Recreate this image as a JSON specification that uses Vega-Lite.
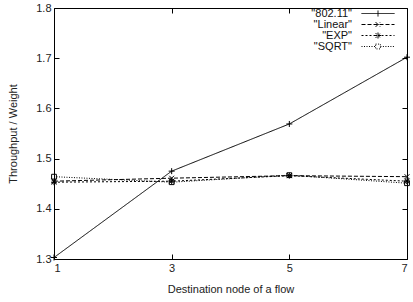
{
  "$schema": "https://vega.github.io/schema/vega-lite/v6.json",
  "width": 353,
  "height": 251,
  "autosize": {"type": "none"},
  "padding": {"left": 54, "top": 8, "right": 6, "bottom": 43},
  "background": "white",
  "config": {
    "font": "Liberation Sans",
    "view": {"stroke": "black", "strokeWidth": 1},
    "axis": {
      "grid": false,
      "domain": false,
      "tickColor": "black",
      "tickSize": -5,
      "tickWidth": 1,
      "labelFont": "Liberation Sans",
      "labelFontSize": 11,
      "labelColor": "#222",
      "titleFont": "Liberation Sans",
      "titleFontSize": 11,
      "titleFontWeight": "normal",
      "titleColor": "#222"
    }
  },
  "data": {
    "values": [
      {"node": 1, "series": "802.11", "value": 1.303},
      {"node": 3, "series": "802.11", "value": 1.475},
      {"node": 5, "series": "802.11", "value": 1.569},
      {"node": 7, "series": "802.11", "value": 1.702},
      {"node": 1, "series": "Linear", "value": 1.455},
      {"node": 3, "series": "Linear", "value": 1.461},
      {"node": 5, "series": "Linear", "value": 1.466},
      {"node": 7, "series": "Linear", "value": 1.464},
      {"node": 1, "series": "EXP", "value": 1.453},
      {"node": 3, "series": "EXP", "value": 1.455},
      {"node": 5, "series": "EXP", "value": 1.466},
      {"node": 7, "series": "EXP", "value": 1.455},
      {"node": 1, "series": "SQRT", "value": 1.464},
      {"node": 3, "series": "SQRT", "value": 1.453},
      {"node": 5, "series": "SQRT", "value": 1.467},
      {"node": 7, "series": "SQRT", "value": 1.451}
    ]
  },
  "layer": [
    {
      "mark": {"type": "line", "color": "black", "strokeWidth": 1},
      "encoding": {
        "x": {"field": "node", "type": "quantitative", "scale": {"domain": [1, 7], "nice": false, "zero": false},
              "axis": {"values": [1, 3, 5, 7], "title": "Destination node of a flow", "labelPadding": 8, "titlePadding": 10}},
        "y": {"field": "value", "type": "quantitative", "scale": {"domain": [1.3, 1.8], "nice": false, "zero": false},
              "axis": {"values": [1.3, 1.4, 1.5, 1.6, 1.7, 1.8], "format": ".1f", "title": "Throughput / Weight", "labelPadding": 8, "titlePadding": 17}},
        "strokeDash": {
          "field": "series", "type": "nominal",
          "scale": {"domain": ["802.11", "Linear", "EXP", "SQRT"], "range": [[1, 0], [4, 2], [2, 2], [1, 1.5]]},
          "legend": {
            "title": null,
            "orient": "none",
            "legendX": 257,
            "legendY": 0,
            "labelFont": "Liberation Sans",
            "labelFontSize": 11,
            "labelColor": "#111",
            "labelExpr": "'\"' + datum.label + '\"'",
            "symbolSize": 36,
            "rowPadding": -2,
            "symbolStrokeColor": "black",
            "symbolStrokeWidth": 1,
            "symbolFillColor": "transparent",
            "encode": {
              "labels": {"update": {"x": {"value": 41}, "align": {"value": "right"}}},
              "symbols": {"update": {
                "x": {"value": 67},
                "shape": {"signal": "datum.value === '802.11' ? 'M-5.5,0L5.5,0M0,-1L0,1' : datum.value === 'Linear' ? 'M-5.5,0L5.5,0M-0.8,-0.8L0.8,0.8M-0.8,0.8L0.8,-0.8' : datum.value === 'EXP' ? 'M-5.5,0L5.5,0M-1,0L1,0M0,-1L0,1M-0.8,-0.8L0.8,0.8M-0.8,0.8L0.8,-0.8' : 'M-5.5,0L-0.8,0M0.8,0L5.5,0M-0.8,-0.8L0.8,-0.8L0.8,0.8L-0.8,0.8Z'"}
              }}
            }
          }
        }
      }
    },
    {
      "transform": [{"filter": "datum.series === '802.11'"}],
      "mark": {"type": "point", "filled": false, "color": "black", "strokeWidth": 1, "opacity": 1, "size": 36, "shape": "M-1,0L1,0M0,-1L0,1"},
      "encoding": {
        "x": {"field": "node", "type": "quantitative", "axis": null},
        "y": {"field": "value", "type": "quantitative", "axis": null}
      }
    },
    {
      "transform": [{"filter": "datum.series === 'Linear'"}],
      "mark": {"type": "point", "filled": false, "color": "black", "strokeWidth": 1, "opacity": 1, "size": 36, "shape": "M-0.8,-0.8L0.8,0.8M-0.8,0.8L0.8,-0.8"},
      "encoding": {
        "x": {"field": "node", "type": "quantitative", "axis": null},
        "y": {"field": "value", "type": "quantitative", "axis": null}
      }
    },
    {
      "transform": [{"filter": "datum.series === 'EXP'"}],
      "mark": {"type": "point", "filled": false, "color": "black", "strokeWidth": 1, "opacity": 1, "size": 36, "shape": "M-1,0L1,0M0,-1L0,1M-0.8,-0.8L0.8,0.8M-0.8,0.8L0.8,-0.8"},
      "encoding": {
        "x": {"field": "node", "type": "quantitative", "axis": null},
        "y": {"field": "value", "type": "quantitative", "axis": null}
      }
    },
    {
      "transform": [{"filter": "datum.series === 'SQRT'"}],
      "mark": {"type": "point", "filled": false, "color": "black", "strokeWidth": 1, "opacity": 1, "size": 36, "shape": "M-0.8,-0.8L0.8,-0.8L0.8,0.8L-0.8,0.8Z"},
      "encoding": {
        "x": {"field": "node", "type": "quantitative", "axis": null},
        "y": {"field": "value", "type": "quantitative", "axis": null}
      }
    },
    {
      "mark": {"type": "point", "opacity": 0},
      "encoding": {
        "x": {"field": "node", "type": "quantitative", "axis": {"orient": "top", "values": [1, 3, 5, 7], "labels": false, "title": null}},
        "y": {"field": "value", "type": "quantitative", "axis": {"orient": "right", "values": [1.3, 1.4, 1.5, 1.6, 1.7, 1.8], "labels": false, "title": null}}
      }
    }
  ],
  "resolve": {"axis": {"x": "independent", "y": "independent"}}
}
